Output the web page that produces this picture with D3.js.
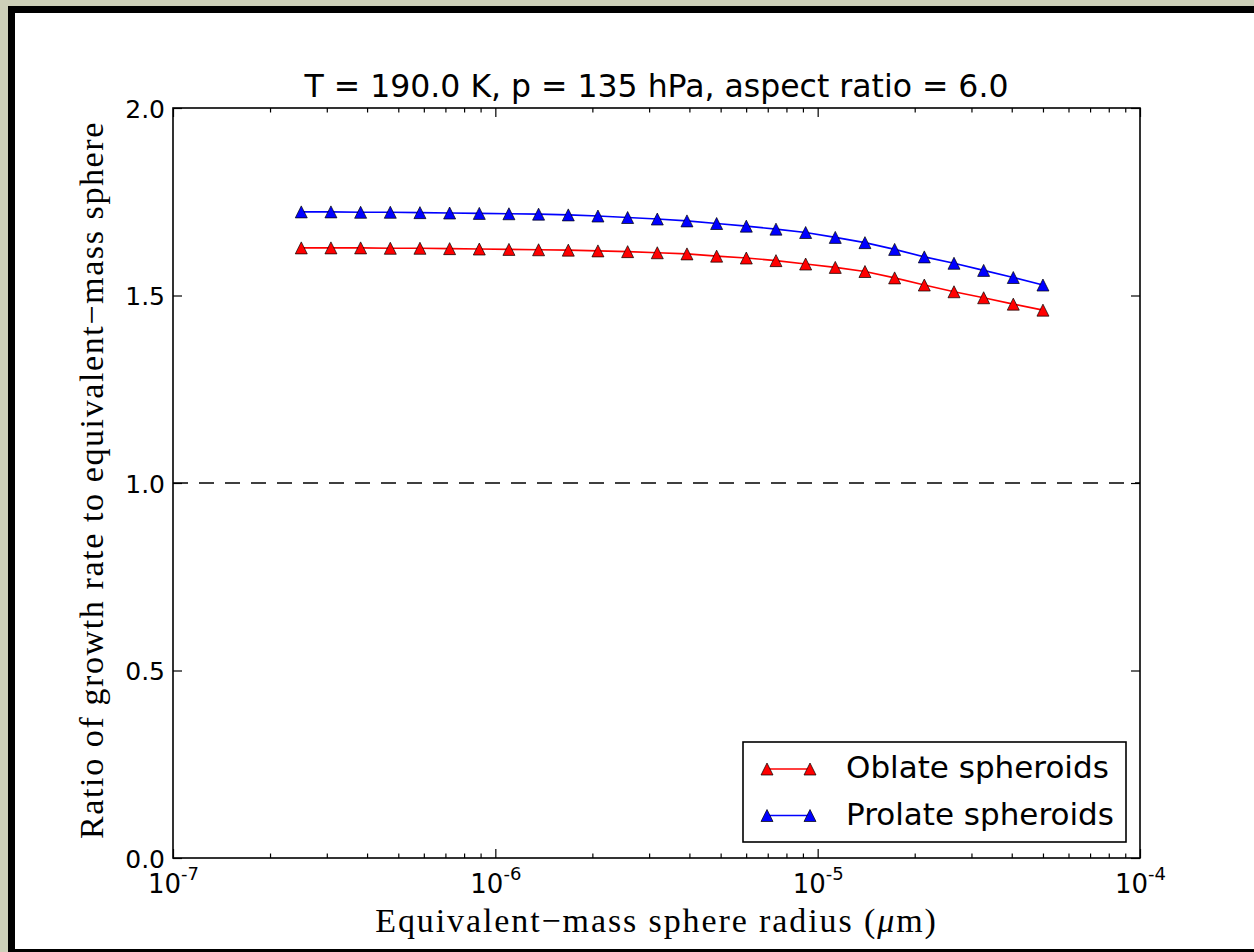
<!DOCTYPE html>
<html>
<head>
<meta charset="utf-8">
<script src="https://cdn.jsdelivr.net/npm/d3@7"></script>
<style>
body{margin:0;background:#cdd0b9;}
svg{display:block;}
</style>
</head>
<body>
<svg id="canvas" width="1254" height="952"></svg>
<script>
// radius of the equivalent-mass sphere (x) and the two growth-ratio series
let radius=[2.5e-7,3.09e-7,3.82e-7,4.722e-7,5.836e-7,7.214e-7,8.917e-7,1.102e-6,1.362e-6,1.684e-6,2.081e-6,2.573e-6,3.18e-6,3.931e-6,4.859e-6,6.006e-6,7.424e-6,9.177e-6,1.134e-5,1.402e-5,1.733e-5,2.142e-5,2.648e-5,3.273e-5,4.045e-5,5e-5];
let oblate=[1.627,1.627,1.627,1.626,1.626,1.625,1.624,1.623,1.622,1.621,1.619,1.617,1.614,1.611,1.605,1.600,1.593,1.584,1.575,1.564,1.547,1.528,1.510,1.494,1.477,1.461];
let prolate=[1.723,1.723,1.722,1.722,1.721,1.720,1.719,1.718,1.717,1.715,1.712,1.708,1.704,1.699,1.692,1.685,1.677,1.668,1.655,1.641,1.623,1.603,1.586,1.567,1.548,1.528];
let seriesNames=["Oblate spheroids","Prolate spheroids"];
let seriesColors=["#ff0000","#0000ff"];
let yTicks=[0,0.5,1.0,1.5,2.0];
let xTicks=[1e-7,1e-6,1e-5,1e-4];
let xExp=["-7","-6","-5","-4"];
let refLine=1.0;
let title="T = 190.0 K, p = 135 hPa, aspect ratio = 6.0";

let canvas=d3.select('#canvas');
let w=1254,h=952;
let pLeft=173,pRight=1140,pTop=108,pBottom=858;

// outer window frame
canvas.append('rect').attr('x',8).attr('y',6).attr('width',w).attr('height',h).attr('fill','#000');
canvas.append('rect').attr('x',15).attr('y',13).attr('width',w).attr('height',949-13).attr('fill','#fff');

let xScale=d3.scaleLog().domain([1e-7,1e-4]).range([pLeft,pRight]);
let yScale=d3.scaleLinear().domain([0,2]).range([pBottom,pTop]);

let minor=xScale.ticks().filter(v=>!xTicks.some(t=>Math.abs(t-v)/t<1e-6));

let styleAxis=(g)=>{g.select('.domain').remove();g.selectAll('.tick line').attr('stroke','#000').attr('stroke-width',1.2);};

// bottom and top axes, ticks pointing in
canvas.append('g').attr('transform','translate(0,'+pBottom+')').call(d3.axisBottom(xScale).tickValues(minor).tickSize(-4.5).tickFormat('')).call(styleAxis);
canvas.append('g').attr('transform','translate(0,'+pTop+')').call(d3.axisTop(xScale).tickValues(minor).tickSize(-4.5).tickFormat('')).call(styleAxis);
canvas.append('g').attr('transform','translate(0,'+pTop+')').call(d3.axisTop(xScale).tickValues(xTicks).tickSize(-9).tickFormat('')).call(styleAxis);
let xAxisG=canvas.append('g').attr('id','x-axis').attr('transform','translate(0,'+pBottom+')').call(d3.axisBottom(xScale).tickValues(xTicks).tickSize(-9)).call(styleAxis);

xAxisG.selectAll('.tick text').each(function(d,i){
  let t=d3.select(this).text(null).attr('y',35).attr('dy',0).attr('fill','#000')
    .style('font-family','"DejaVu Sans"').attr('text-anchor','middle');
  t.append('tspan').style('font-size','26px').text('10');
  t.append('tspan').style('font-size','18px').attr('dy',-13).text(xExp[i]);
});

// left and right axes
canvas.append('g').attr('id','y-axis').attr('transform','translate('+pLeft+',0)')
  .call(d3.axisLeft(yScale).tickValues(yTicks).tickSize(-9).tickPadding(8).tickFormat(d3.format('.1f')))
  .call(styleAxis)
  .selectAll('.tick text').attr('fill','#000').attr('dy','0.36em').style('font','25px "DejaVu Sans"');
canvas.append('g').attr('transform','translate('+pRight+',0)')
  .call(d3.axisRight(yScale).tickValues(yTicks).tickSize(-9).tickFormat('')).call(styleAxis);

// reference line at ratio 1
canvas.append('line').attr('x1',pLeft).attr('x2',pRight).attr('y1',yScale(refLine)).attr('y2',yScale(refLine))
  .attr('stroke','#000').attr('stroke-width',1.6).attr('stroke-dasharray','15,11');

let tri='M0,-6L6,6L-6,6Z';
let line=d3.line().x(d=>xScale(d[0])).y(d=>yScale(d[1]));

[oblate,prolate].forEach((vals,k)=>{
  let pts=radius.map((r,i)=>[r,vals[i]]);
  canvas.append('path').datum(pts).attr('d',line).attr('fill','none').attr('stroke',seriesColors[k]).attr('stroke-width',1.6);
  canvas.append('g').selectAll('path').data(pts).enter().append('path')
    .attr('d',tri).attr('transform',d=>'translate('+xScale(d[0])+','+yScale(d[1])+')')
    .attr('fill',seriesColors[k]).attr('stroke','#000').attr('stroke-width',0.7);
});

// plot frame
canvas.append('rect').attr('x',pLeft).attr('y',pTop).attr('width',pRight-pLeft).attr('height',pBottom-pTop)
  .attr('fill','none').attr('stroke','#000').attr('stroke-width',1.6);

// title
canvas.append('text').attr('x',(pLeft+pRight)/2).attr('y',97).attr('text-anchor','middle')
  .style('font','31.5px "DejaVu Sans"').text(title);

// axis labels
let xl=canvas.append('text').attr('x',(pLeft+pRight)/2).attr('y',932).attr('text-anchor','middle')
  .style('font-family','"Liberation Serif"').style('font-size','34px').style('letter-spacing','1.9px');
xl.append('tspan').text('Equivalent\u2212mass sphere radius (');
xl.append('tspan').style('font-style','italic').text('\u03bc');
xl.append('tspan').text('m)');

canvas.append('text').attr('transform','translate(103,480) rotate(-90)').attr('text-anchor','middle')
  .style('font-family','"Liberation Serif"').style('font-size','34px').style('letter-spacing','1.6px')
  .text('Ratio of growth rate to equivalent\u2212mass sphere');

// legend
let legend=canvas.append('g').attr('id','legend');
legend.append('rect').attr('x',743).attr('y',742).attr('width',383).attr('height',100)
  .attr('fill','#fff').attr('stroke','#000').attr('stroke-width',1.6);
seriesNames.forEach((name,k)=>{
  let yy=769+k*46.5;
  legend.append('line').attr('x1',767).attr('x2',810).attr('y1',yy).attr('y2',yy).attr('stroke',seriesColors[k]).attr('stroke-width',1.6);
  [767,810].forEach(xx=>{
    legend.append('path').attr('d',tri).attr('transform','translate('+xx+','+yy+')')
      .attr('fill',seriesColors[k]).attr('stroke','#000').attr('stroke-width',0.7);
  });
  legend.append('text').attr('x',846).attr('y',yy+9).style('font','31px "DejaVu Sans"').text(name);
});
</script>
</body>
</html>
